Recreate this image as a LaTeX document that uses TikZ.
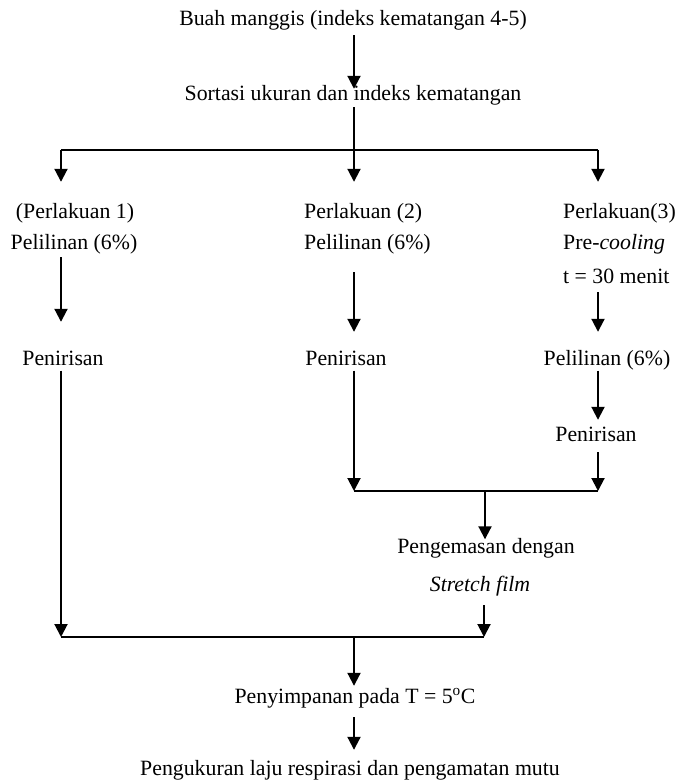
\documentclass[tikz,border=0pt]{standalone}
\usepackage{fontspec}
\setmainfont{Liberation Serif}
\usetikzlibrary{arrows.meta}
\begin{document}
\begin{tikzpicture}[x=1pt,y=-1pt,
  txt/.style={inner sep=0pt, text height=14pt, text depth=5pt, font=\fontsize{21.8}{26}\selectfont},
  arr/.style={line width=2pt, -{Triangle[length=13pt,width=13pt]}},
  vline/.style={line width=2pt},
  hline/.style={line width=2pt}]
\useasboundingbox (0,0) rectangle (679,783);
% columns
\coordinate (c1) at (61,0);
\coordinate (c2) at (354,0);
\coordinate (c3) at (598,0);
\coordinate (c4) at (485,0);
% nodes
\node[txt] (buah) at (353,21) {Buah manggis (indeks kematangan 4-5)};
\node[txt] (sort) at (353,96.5) {Sortasi ukuran dan indeks kematangan};
\node[txt] (p1a) at (75,214) {(Perlakuan 1)};
\node[txt] (p1b) at (74,245) {Pelilinan (6\%)};
\node[txt,anchor=west] (p2a) at (304,214) {Perlakuan (2)};
\node[txt,anchor=west] (p2b) at (304,245) {Pelilinan (6\%)};
\node[txt,anchor=west] (p3a) at (563,214) {Perlakuan(3)};
\node[txt,anchor=west] (p3b) at (563,245) {Pre-\textit{cooling}};
\node[txt,anchor=west] (p3c) at (563,279) {t = 30 menit};
\node[txt] (pen1) at (63,361) {Penirisan};
\node[txt] (pen2) at (346,361) {Penirisan};
\node[txt] (wax3) at (607,361) {Pelilinan (6\%)};
\node[txt] (pen3) at (596,436.5) {Penirisan};
\node[txt] (pack1) at (486,549) {Pengemasan dengan};
\node[txt] (pack2) at (480,586.5) {\textit{Stretch film}};
\node[txt] (store) at (355,698.5) {Penyimpanan pada T = 5\textsuperscript{o}C};
\node[txt] (meas) at (350,771) {Pengukuran laju respirasi dan pengamatan mutu};
% junction coordinates
\coordinate (j1) at (354,150);
\coordinate (b1) at (61,150);
\coordinate (b3) at (598,150);
\coordinate (h2L) at (354,491);
\coordinate (h2R) at (598,491);
\coordinate (j2) at (485,491);
\coordinate (h3L) at (61,637);
\coordinate (h3R) at (484,637);
\coordinate (j3) at (354,637);
% connectors
\draw[arr, shorten <=4.5pt, shorten >=-2pt] (buah.south -| c2) -- (sort.north -| c2);
\draw[vline, shorten <=1pt] (sort.south -| c2) -- (j1);
\draw[hline] (b1) -- (b3);
\draw[arr, shorten >=22.5pt] (b1) -- (p1a.north -| c1);
\draw[arr, shorten >=22.5pt] (j1) -- (p2a.north -| c2);
\draw[arr, shorten >=22.5pt] (b3) -- (p3a.north -| c3);
\draw[arr, shorten <=2.5pt, shorten >=29.5pt] (p1b.south -| c1) -- (pen1.north -| c1);
\draw[arr, shorten <=17.5pt, shorten >=19.5pt] (p2b.south -| c2) -- (pen2.north -| c2);
\draw[arr, shorten <=3.5pt, shorten >=19.5pt] (p3c.south -| c3) -- (wax3.north -| c3);
\draw[arr] (pen1.south -| c1) -- (h3L);
\draw[arr] (pen2.south -| c2) -- (h2L);
\draw[arr, shorten >=7pt] (wax3.south -| c3) -- (pen3.north -| c3);
\draw[arr, shorten <=6pt] (pen3.south -| c3) -- (h2R);
\draw[hline] (h2L) -- (h2R);
\draw[arr] (j2) -- (pack1.north -| c4);
\draw[arr, shorten <=9pt] (pack2.south -| h3R) -- (h3R);
\draw[hline] (h3L) -- (h3R);
\draw[arr, shorten >=3pt] (j3) -- (store.north -| c2);
\draw[arr, shorten <=9pt, shorten >=11.5pt] (store.south -| c2) -- (meas.north -| c2);
\end{tikzpicture}
\end{document}
